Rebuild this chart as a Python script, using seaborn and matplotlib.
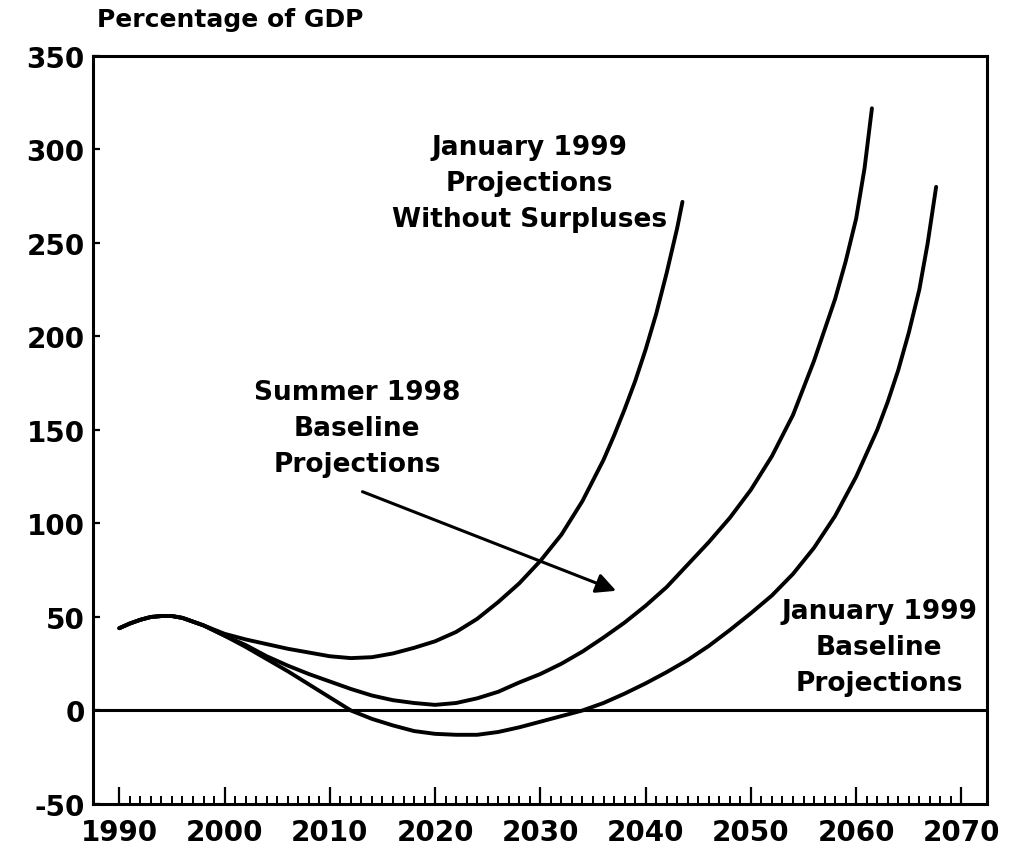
"""
Debt held by the public, percentage of GDP: three long-run projections.
"""

import numpy as np
import pandas as pd
import matplotlib
matplotlib.use('Agg')
import matplotlib.pyplot as plt
from matplotlib.ticker import FixedLocator
import seaborn as sns

# 数据
years_without = [1990, 1991, 1992, 1993, 1994, 1995, 1996, 1998, 2000, 2002,
                 2004, 2006, 2008, 2010, 2012, 2014, 2016, 2018, 2020, 2022,
                 2024, 2026, 2028, 2030, 2032, 2034, 2036, 2037, 2038, 2039,
                 2040, 2041, 2042, 2043, 2043.5]
debt_without = [44, 46.5, 48.5, 50, 50.5, 50.5, 49.5, 45.5, 41, 38,
                35.5, 33, 31, 29, 28, 28.5, 30.5, 33.5, 37, 42,
                49, 58, 68, 80, 94, 112, 134, 147, 161, 176,
                193, 212, 234, 258, 272]

years_summer = [1990, 1991, 1992, 1993, 1994, 1995, 1996, 1998, 2000, 2002,
                2004, 2006, 2008, 2010, 2012, 2014, 2016, 2018, 2020, 2022,
                2024, 2026, 2028, 2030, 2032, 2034, 2036, 2038, 2040, 2042,
                2044, 2046, 2048, 2050, 2052, 2054, 2056, 2058, 2059, 2060,
                2060.8, 2061.5]
debt_summer = [44, 46.5, 48.5, 50, 50.5, 50.5, 49.5, 45.5, 40, 35,
               29, 24, 19.5, 15.5, 11.5, 8, 5.5, 4, 3, 4,
               6.5, 10, 15, 19.5, 25, 31.5, 39, 47, 56, 66,
               78, 90, 103, 118, 136, 158, 187, 220, 240, 263,
               290, 322]

years_baseline = [1990, 1991, 1992, 1993, 1994, 1995, 1996, 1998, 2000, 2002,
                  2004, 2006, 2008, 2010, 2012, 2014, 2016, 2018, 2020, 2022,
                  2024, 2026, 2028, 2030, 2032, 2034, 2036, 2038, 2040, 2042,
                  2044, 2046, 2048, 2050, 2052, 2054, 2056, 2058, 2060, 2062,
                  2063, 2064, 2065, 2066, 2066.8, 2067.6]
debt_baseline = [44, 46.5, 48.5, 50, 50.5, 50.5, 49.5, 45.5, 40, 34,
                 27.5, 21, 14, 7, 0, -4.5, -8, -11, -12.5, -13,
                 -13, -11.5, -9, -6, -3, 0, 4, 9, 14.5, 20.5,
                 27, 34.5, 43, 52, 61.5, 73, 87, 104, 125, 150,
                 165, 182, 202, 225, 250, 280]

x_ticks = list(range(1990, 2071, 10))
y_ticks = list(range(-50, 351, 50))

sns.set_theme(style='white')
plt.rcParams['font.family'] = ['DejaVu Sans']
plt.rcParams['font.weight'] = 'bold'
plt.rcParams['text.color'] = 'black'
plt.rcParams['axes.unicode_minus'] = False

fig = plt.figure(figsize=(10.13, 8.54), dpi=100)
ax = fig.add_axes([0.0918, 0.0574, 0.8822, 0.8759])

for yrs, vals in [(years_without, debt_without),
                  (years_summer, debt_summer),
                  (years_baseline, debt_baseline)]:
    df = pd.DataFrame({'year': yrs, 'debt': vals})
    sns.lineplot(data=df, x='year', y='debt', ax=ax, color='black',
                 linewidth=2.8, estimator=None, sort=True)

ax.axhline(0, color='black', linewidth=2.2)

ax.set_xlim(1987.5, 2072.4)
ax.set_ylim(-50, 350)
ax.set_xticks(x_ticks)
ax.set_yticks(y_ticks)
ax.xaxis.set_minor_locator(FixedLocator(list(range(1990, 2071))))
ax.tick_params(axis='x', which='both', bottom=True, top=False, colors='black')
ax.tick_params(axis='y', which='both', left=True, right=False, colors='black')
ax.tick_params(axis='x', which='major', direction='in', length=12, width=1.6,
               labelsize=20, pad=10)
ax.tick_params(axis='x', which='minor', direction='in', length=5.5, width=1.4)
ax.tick_params(axis='y', which='major', direction='in', length=5, width=1.6,
               labelsize=20, pad=6)
for lab in ax.get_xticklabels() + ax.get_yticklabels():
    lab.set_fontweight('bold')
ax.set_xlabel('')
ax.set_ylabel('')

for sp in ax.spines.values():
    sp.set_visible(True)
    sp.set_color('black')
    sp.set_linewidth(2.2)

fig.text(97 / 1013, 1 - 20 / 854, 'Percentage of GDP', ha='left', va='center',
         fontsize=18, fontweight='bold')

ax.text(2029, 282, 'January 1999\nProjections\nWithout Surpluses', ha='center',
        va='center', fontsize=19, fontweight='bold', linespacing=1.5)
ax.text(2012.6, 151, 'Summer 1998\nBaseline\nProjections', ha='center',
        va='center', fontsize=19, fontweight='bold', linespacing=1.5)
ax.text(2062.2, 34, 'January 1999\nBaseline\nProjections', ha='center',
        va='center', fontsize=19, fontweight='bold', linespacing=1.5)

ax.annotate('', xy=(2037.2, 64), xytext=(2013.1, 117),
            arrowprops=dict(arrowstyle='-|>', color='black', lw=2.2,
                            mutation_scale=30, shrinkA=0, shrinkB=0))

fig.savefig('out.png', dpi=100, facecolor='white')
plt.close(fig)
